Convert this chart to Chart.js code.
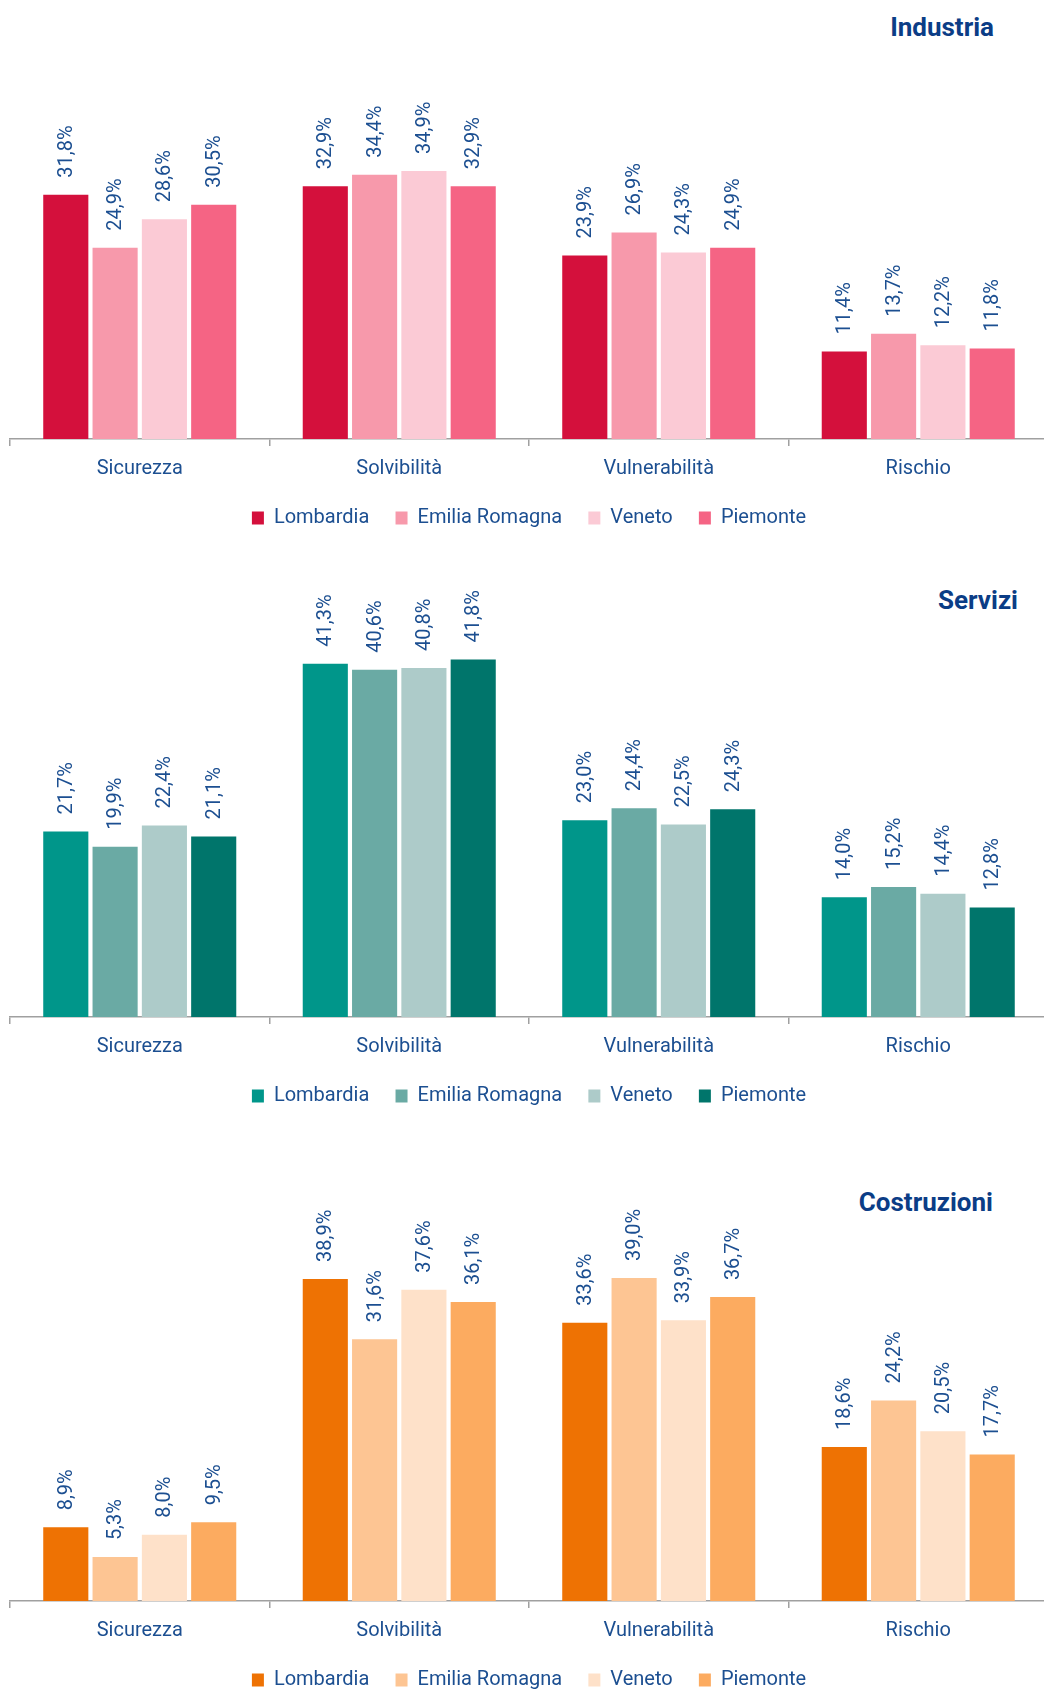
<!DOCTYPE html>
<html>
<head>
<meta charset="utf-8">
<script src="https://cdn.jsdelivr.net/npm/chart.js@4.4.1/dist/chart.umd.min.js"></script>
<style>
  html, body { margin: 0; padding: 0; background: #fff; overflow: hidden; }
  #page { position: relative; width: 1044px; height: 1690px; overflow: hidden; }
  .box { position: absolute; left: 0; width: 1050px; }
  .title { position: absolute; font: bold 26px Roboto, sans-serif; color: #0b3d86; line-height: 30px; }
</style>
</head>
<body>
<div id="page">
  <div class="title" style="right:50px; top:12px;">Industria</div>
  <div class="box" style="top:0; height:538px;"><canvas id="c1"></canvas></div>

  <div class="title" style="right:26px; top:585px;">Servizi</div>
  <div class="box" style="top:560px; height:556px;"><canvas id="c2"></canvas></div>

  <div class="title" style="right:51px; top:1187px;">Costruzioni</div>
  <div class="box" style="top:1130px; height:570px;"><canvas id="c3"></canvas></div>
</div>

<script>
// ================= Data =================
const categories = ['Sicurezza', 'Solvibilità', 'Vulnerabilità', 'Rischio'];
const regions = ['Lombardia', 'Emilia Romagna', 'Veneto', 'Piemonte'];

// Industria
const indLombardia = [31.8, 32.9, 23.9, 11.4];
const indEmilia    = [24.9, 34.4, 26.9, 13.7];
const indVeneto    = [28.6, 34.9, 24.3, 12.2];
const indPiemonte  = [30.5, 32.9, 24.9, 11.8];

// Servizi
const serLombardia = [21.7, 41.3, 23.0, 14.0];
const serEmilia    = [19.9, 40.6, 24.4, 15.2];
const serVeneto    = [22.4, 40.8, 22.5, 14.4];
const serPiemonte  = [21.1, 41.8, 24.3, 12.8];

// Costruzioni
const cosLombardia = [8.9, 38.9, 33.6, 18.6];
const cosEmilia    = [5.3, 31.6, 39.0, 24.2];
const cosVeneto    = [8.0, 37.6, 33.9, 20.5];
const cosPiemonte  = [9.5, 36.1, 36.7, 17.7];

const TEXT = '#1c4f91';
const FONT = 'Roboto, sans-serif';

// ================= Value labels (rotated) =================
const valueLabels = {
  id: 'valueLabels',
  afterDatasetsDraw(chart) {
    const ctx = chart.ctx;
    ctx.save();
    ctx.fillStyle = TEXT;
    ctx.font = '20px ' + FONT;
    ctx.textAlign = 'left';
    ctx.textBaseline = 'middle';
    chart.data.datasets.forEach((ds, i) => {
      chart.getDatasetMeta(i).data.forEach((bar, j) => {
        const txt = ds.data[j].toFixed(1).replace('.', ',') + '%';
        ctx.save();
        ctx.translate(bar.x + 1, bar.y - 17);
        ctx.rotate(-Math.PI / 2);
        ctx.fillText(txt, 0, 0);
        ctx.restore();
      });
    });
    ctx.restore();
  }
};

function makeChart(id, series, colors, yMax, padTop) {
  const datasets = regions.map((r, i) => ({
    label: r,
    data: series[i],
    backgroundColor: colors[i],
    borderWidth: 0,
    barPercentage: 0.915,
    categoryPercentage: 0.76
  }));
  return new Chart(document.getElementById(id), {
    type: 'bar',
    data: { labels: categories, datasets },
    options: {
      responsive: true,
      maintainAspectRatio: false,
      animation: false,
      layout: { padding: { top: padTop, left: 10, right: 2, bottom: 0 } },
      plugins: {
        tooltip: { enabled: false },
        legend: {
          position: 'bottom',
          labels: {
            boxWidth: 12, boxHeight: 13, padding: 16,
            color: TEXT, font: { family: FONT, size: 20 },
            // a little extra room between names (legend padding kept small vertically)
            generateLabels(chart) {
              const items = Chart.defaults.plugins.legend.labels.generateLabels(chart);
              items.forEach((it, i) => { if (i < items.length - 1) it.text = it.text + '\u2002'; });
              return items;
            }
          }
        }
      },
      scales: {
        x: {
          border: { display: true, color: '#a0a0a0', width: 1.5 },
          grid: { display: true, drawOnChartArea: false, drawTicks: true, tickLength: 7, color: '#a0a0a0', lineWidth: 1.5 },
          ticks: { color: TEXT, padding: 11, font: { family: FONT, size: 20 } }
        },
        y: { display: false, min: 0, max: yMax }
      }
    },
    plugins: [valueLabels]
  });
}

makeChart('c1', [indLombardia, indEmilia, indVeneto, indPiemonte],
  ['#d4103c', '#f799ab', '#fbcad5', '#f56484'], 50, 55);
makeChart('c2', [serLombardia, serEmilia, serVeneto, serPiemonte],
  ['#00968a', '#6aaaa4', '#adcbc9', '#00756b'], 47, 55);
makeChart('c3', [cosLombardia, cosEmilia, cosVeneto, cosPiemonte],
  ['#ee7203', '#fdc593', '#fee1c9', '#fcab60'], 50, 57);
</script>
</body>
</html>
